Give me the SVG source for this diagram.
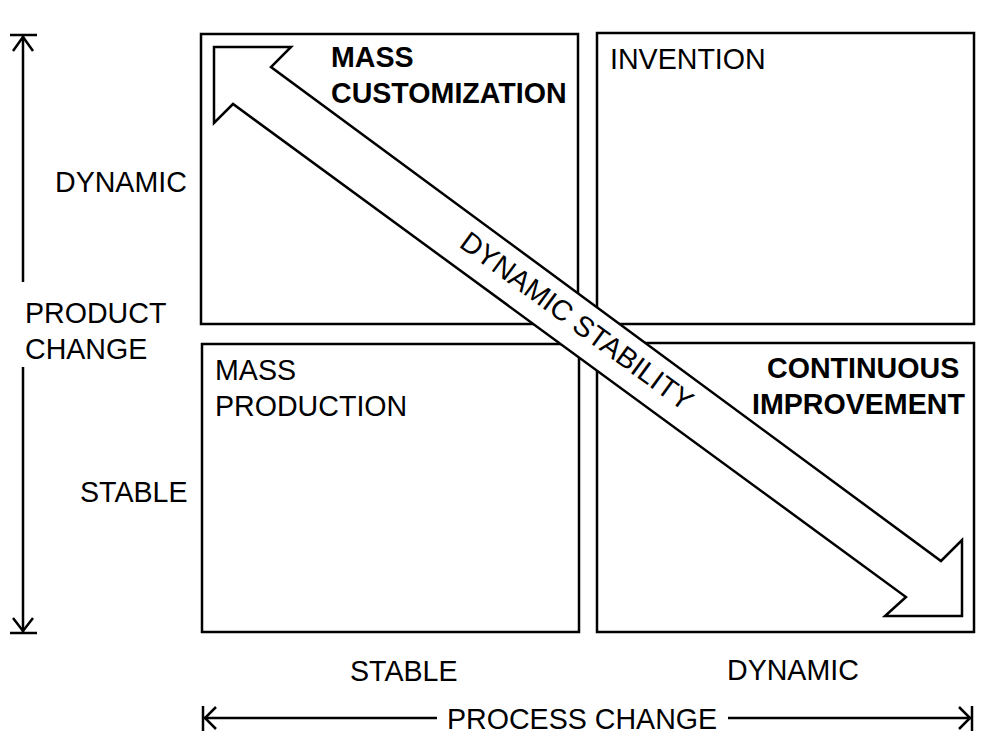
<svg xmlns="http://www.w3.org/2000/svg" width="1000" height="754" viewBox="0 0 1000 754">
<style>
.box{fill:none;stroke:#000;stroke-width:2.5}
.ax{fill:none;stroke:#000;stroke-width:2.5;stroke-linecap:butt;stroke-linejoin:miter}
.t{font-family:"Liberation Sans",Arial,sans-serif;font-size:28.6px;fill:#000}
.b{font-weight:bold}
</style>
<rect width="1000" height="754" fill="#fff"/>
<g id="q-mass-customization">
<rect class="box" x="201" y="34" width="377" height="290"/>
<text class="t b" x="331" y="67">MASS</text>
<text class="t b" x="331" y="103">CUSTOMIZATION</text>
</g>
<g id="q-invention">
<rect class="box" x="597" y="33" width="377" height="291"/>
<text class="t" x="610" y="69">INVENTION</text>
</g>
<g id="q-mass-production">
<rect class="box" x="202" y="344" width="377" height="288"/>
<text class="t" x="215" y="380">MASS</text>
<text class="t" x="215" y="416">PRODUCTION</text>
</g>
<g id="q-continuous-improvement">
<rect class="box" x="597" y="343" width="377" height="289"/>
<text class="t b" x="767" y="378">CONTINUOUS</text>
<text class="t b" x="752" y="414">IMPROVEMENT</text>
</g>
<g id="connectors">
<g id="dynamic-stability">
<polygon points="214,47 291,47 271,67 941,561 962,540 962,616 885,616 906,597 233,104 214,123" fill="#fff" stroke="#000" stroke-width="2.5" stroke-linejoin="miter"/>
<text class="t" x="0" y="0" text-anchor="middle" transform="translate(571,329) rotate(36.3)">DYNAMIC STABILITY</text>
</g>
<g id="product-change-axis">
<line class="ax" x1="23" y1="35" x2="23" y2="282"/>
<line class="ax" x1="23" y1="367" x2="23" y2="633"/>
<line class="ax" x1="10" y1="35" x2="37" y2="35"/>
<line class="ax" x1="10" y1="633" x2="37" y2="633"/>
<polyline class="ax" points="13,51 23,37 33,51"/>
<polyline class="ax" points="13,618 23,631 33,618"/>
</g>
<g id="process-change-axis">
<line class="ax" x1="203" y1="718" x2="437" y2="718"/>
<line class="ax" x1="728" y1="718" x2="972" y2="718"/>
<line class="ax" x1="203" y1="706" x2="203" y2="731"/>
<line class="ax" x1="972" y1="706" x2="972" y2="731"/>
<polyline class="ax" points="216,707 205,718 216,729"/>
<polyline class="ax" points="959,707 970,718 959,729"/>
</g>
</g>
<g id="axis-labels">
<text class="t" x="55" y="192">DYNAMIC</text>
<text class="t" x="25" y="323">PRODUCT</text>
<text class="t" x="25" y="359">CHANGE</text>
<text class="t" x="80" y="502">STABLE</text>
<text class="t" x="350" y="681">STABLE</text>
<text class="t" x="727" y="680">DYNAMIC</text>
<text class="t" x="447" y="729">PROCESS CHANGE</text>
</g>
</svg>
